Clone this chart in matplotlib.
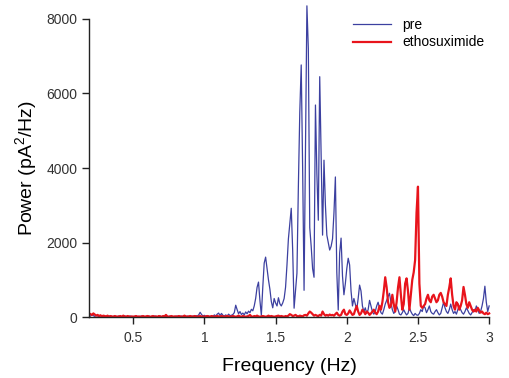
import numpy as np
import matplotlib
matplotlib.use('Agg')
import matplotlib.pyplot as plt

plt.rcParams['font.family'] = ['Liberation Sans', 'DejaVu Sans']
plt.rcParams['mathtext.default'] = 'regular'

# frequencia (Hz), paso de 0.01 de 0.20 a 3.00
freq = np.round(np.arange(0.20, 3.0001, 0.01), 2)

# potencia antes del farmaco
pre = [
    30, 60, 40, 20, 50, 30, 10, 40, 20, 30,
    20, 10, 30, 20, 40, 10, 20, 30, 10, 20,
    30, 10, 20, 10, 30, 20, 10, 20, 30, 10,
    20, 10, 30, 20, 10, 20, 30, 10, 20, 10,
    20, 30, 10, 20, 10, 30, 20, 10, 20, 30,
    10, 20, 30, 20, 10, 20, 30, 10, 20, 10,
    20, 30, 10, 20, 30, 10, 20, 10, 30, 20,
    10, 20, 30, 20, 40, 30, 60, 130, 70, 30,
    50, 20, 40, 30, 10, 40, 20, 60, 30, 80,
    110, 40, 100, 50, 30, 60, 30, 80, 40, 50,
    70, 120, 320, 200, 90, 150, 70, 110, 60, 140,
    90, 160, 120, 210, 170, 300, 500, 800, 940, 450,
    50, 800, 1450, 1610, 1300, 1000, 750, 420, 250, 500,
    380, 300, 520, 360, 300, 380, 500, 800, 1400, 2100,
    2500, 2920, 1800, 240, 700, 1180, 3500, 5500, 6765, 4000,
    720, 4500, 8350, 7200, 2400, 1900, 1300, 1070, 5690, 3850,
    2600, 6450, 4300, 2200, 4210, 3000, 2200, 2000, 1800, 1900,
    2100, 2800, 3760, 1200, 190, 1720, 2120, 1100, 600, 900,
    1300, 1580, 1400, 700, 300, 500, 350, 200, 500, 860,
    700, 300, 150, 250, 100, 200, 450, 300, 150, 80,
    150, 300, 400, 250, 120, 80, 200, 350, 450, 550,
    640, 400, 200, 100, 150, 300, 200, 80, 60, 120,
    200, 120, 60, 100, 250, 150, 80, 40, 100, 60,
    50, 100, 200, 150, 300, 250, 120, 200, 300, 150,
    100, 80, 150, 200, 120, 60, 100, 250, 400, 250,
    150, 100, 200, 350, 200, 100, 150, 80, 200, 300,
    200, 120, 80, 150, 250, 180, 100, 60, 120, 200,
    150, 300, 200, 100, 150, 300, 500, 830, 400, 150,
    300,
]

# potencia con etosuximida
etosux = [
    80, 60, 100, 70, 40, 60, 30, 50, 20, 40,
    30, 20, 40, 10, 30, 20, 10, 30, 20, 10,
    20, 30, 10, 40, 20, 10, 30, 20, 10, 20,
    10, 20, 30, 10, 20, 10, 20, 30, 10, 20,
    30, 20, 10, 20, 30, 10, 20, 10, 30, 20,
    10, 30, 20, 60, 20, 10, 20, 30, 10, 20,
    20, 10, 30, 20, 10, 20, 40, 20, 10, 20,
    30, 20, 10, 30, 20, 10, 20, 30, 10, 20,
    10, 20, 30, 20, 10, 30, 20, 10, 20, 30,
    20, 10, 30, 20, 10, 20, 30, 20, 10, 20,
    30, 20, 10, 20, 40, 20, 10, 30, 20, 10,
    20, 30, 60, 20, 10, 30, 20, 40, 20, 10,
    20, 30, 20, 10, 20, 40, 20, 30, 20, 10,
    20, 30, 40, 20, 30, 20, 10, 30, 20, 40,
    80, 60, 30, 40, 60, 30, 20, 40, 30, 20,
    50, 60, 40, 100, 150, 120, 80, 40, 60, 40,
    30, 60, 40, 150, 80, 40, 60, 40, 70, 50,
    60, 40, 80, 120, 60, 40, 60, 150, 200, 80,
    60, 100, 180, 120, 60, 80, 200, 300, 150, 60,
    100, 200, 150, 80, 150, 120, 60, 100, 150, 200,
    120, 80, 150, 300, 200, 400, 700, 1070, 800, 400,
    250, 300, 600, 350, 150, 400, 800, 1070, 600, 200,
    350, 900, 1040, 700, 200, 600, 1000, 1200, 1530, 2800,
    3500, 900, 300, 250, 300, 350, 500, 600, 450, 400,
    550, 600, 500, 400, 450, 600, 650, 550, 400, 350,
    300, 600, 800, 1040, 600, 300, 200, 400, 350, 200,
    300, 450, 810, 600, 350, 250, 400, 300, 200, 150,
    200, 150, 250, 180, 120, 150, 100, 80, 120, 80,
    100,
]

fig = plt.figure(figsize=(5.09, 3.78), dpi=100)
ax = fig.add_axes([0.175, 0.161, 0.786, 0.789])

ax.plot(freq, pre, color='#3c40a0', lw=0.9, label='pre', clip_on=False)
ax.plot(freq, etosux, color='#e8141c', lw=1.6, label='ethosuximide', clip_on=False)

ax.set_xlim(0.19, 3.0)
ax.set_ylim(0, 8000)
ax.set_xticks([0.5, 1, 1.5, 2, 2.5, 3])
ax.set_xticklabels(['0.5', '1', '1.5', '2', '2.5', '3'])
ax.set_yticks([0, 2000, 4000, 6000, 8000])

for s in ['top', 'right']:
    ax.spines[s].set_visible(False)
for s in ['left', 'bottom']:
    ax.spines[s].set_linewidth(1.0)
    ax.spines[s].set_color('#222222')
ax.tick_params(direction='out', length=5, width=1, colors='#222222',
               labelsize=10, labelcolor='#333333')
ax.tick_params(axis='x', pad=5)

ax.set_xlabel('Frequency (Hz)', fontsize=14, labelpad=9)
ax.set_ylabel('Power (pA$^2$/Hz)', fontsize=14, labelpad=5)

ax.legend(loc='upper right', bbox_to_anchor=(1.02, 1.045), frameon=False,
          fontsize=10, handlelength=2.8, handletextpad=0.8, labelspacing=0.25)

fig.savefig('out.png', dpi=100)
